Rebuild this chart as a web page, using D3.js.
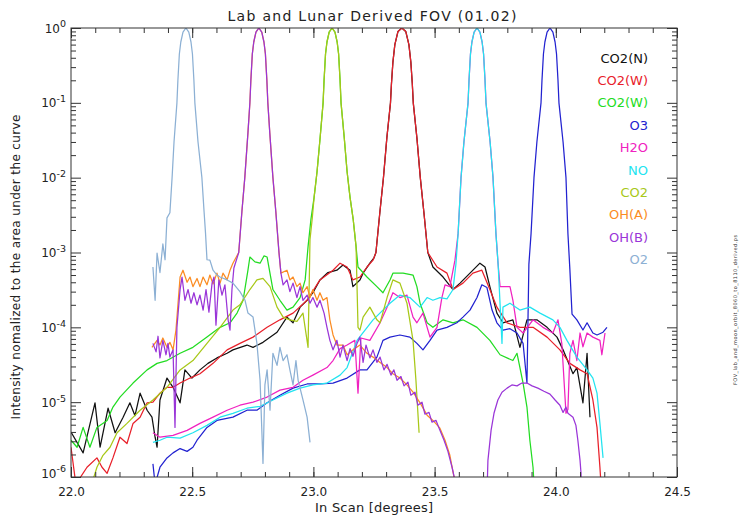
<!DOCTYPE html>
<html>
<head>
<meta charset="utf-8">
<script src="https://cdn.jsdelivr.net/npm/d3@7"></script>
<style>
body { margin: 0; background: #fff; }
text { font-family: "DejaVu Sans", sans-serif; }
.axis line { stroke: #333; stroke-width: 1; }
.axis path { display: none; }
</style>
</head>
<body>
<div id="chart"></div>
<script>
var names = ["CO2(N)", "CO2(W)", "CO2(W)", "O3", "H2O", "NO", "CO2", "OH(A)", "OH(B)", "O2"];
var colors = ["#111111", "#e8202a", "#22dc22", "#2222d0", "#f022c0", "#22e4f0", "#a8c818", "#fb8c23", "#9a35d8", "#8cb0d4"];

var xTicks = [22.0, 22.5, 23.0, 23.5, 24.0, 24.5];
var yTicks = [1e-6, 1e-5, 1e-4, 1e-3, 1e-2, 1e-1, 1];
var yExp = ["-6", "-5", "-4", "-3", "-2", "-1", "0"];

// [in-scan degrees, normalized intensity]
var co2N = [[22.000,4e-6],[22.050,2.1e-6],[22.099,9.8e-6],[22.120,2.5e-6],[22.153,8.3e-6],[22.182,3.9e-6],[22.215,6.3e-6],[22.243,9.8e-6],[22.264,6.6e-6],[22.285,1.32e-5],[22.314,7.8e-6],[22.334,6.3e-6],[22.347,3.4e-6],[22.355,2.5e-6],[22.367,1.07e-5],[22.396,2.1e-5],[22.421,1.58e-5],[22.450,9.8e-6],[22.470,2.7e-5],[22.499,2.1e-5],[22.532,2.7e-5],[22.565,3.3e-5],[22.602,3.9e-5],[22.644,4.5e-5],[22.668,5.0e-5],[22.726,5.8e-5],[22.751,5.4e-5],[22.792,6.3e-5],[22.850,8.6e-5],[22.891,1.37e-4],[22.916,1.15e-4],[22.945,1.86e-4],[22.974,2.3e-4],[22.998,2.9e-4],[23.027,4.3e-4],[23.060,5.4e-4],[23.097,5.8e-4],[23.122,6.8e-4],[23.151,5.8e-4],[23.163,3.5e-4],[23.192,4.3e-4],[23.205,5.3e-4],[23.233,7.2e-4],[23.250,8.5e-4],
  [23.258,1.0e-3],[23.274,3.4e-3],[23.289,0.01],[23.303,0.034],[23.318,0.1],[23.322,0.18],[23.328,0.35],[23.336,0.6],[23.349,0.9],[23.365,1.0],[23.381,0.9],[23.394,0.6],[23.402,0.35],[23.408,0.18],[23.412,0.1],[23.427,0.034],[23.441,0.01],[23.456,3.4e-3],[23.472,1.0e-3],
  [23.493,6.4e-4],[23.535,4.7e-4],[23.576,3.2e-4],[23.605,3.9e-4],[23.646,5.3e-4],[23.687,7.2e-4],[23.708,6.4e-4],[23.728,3.5e-4],[23.757,1.55e-4],[23.782,1.15e-4],[23.823,1.26e-4],[23.852,5.4e-5],[23.881,1.26e-4],[23.922,1.26e-4],[23.964,1.0e-4],[24.005,7.4e-5],[24.030,5.0e-5],[24.071,2.4e-5],[24.087,2.9e-5],[24.112,9.8e-6],[24.129,4.5e-5],[24.141,6.3e-6]];

var co2W = [[22.000,2.5e-6],[22.020,8e-7],[22.066,1.35e-6],[22.107,1.8e-6],[22.128,1.35e-6],[22.149,1.12e-6],[22.173,1.8e-6],[22.202,3.4e-6],[22.231,2.8e-6],[22.256,5.2e-6],[22.285,6.3e-6],[22.314,9.8e-6],[22.338,1.0e-5],[22.367,1.32e-5],[22.396,1.58e-5],[22.421,1.58e-5],[22.450,1.8e-5],[22.491,2.1e-5],[22.532,2.4e-5],[22.586,3.3e-5],[22.644,5.0e-5],[22.697,6.1e-5],[22.751,7.4e-5],[22.809,1.0e-4],[22.862,1.26e-4],[22.916,1.55e-4],[22.974,2.3e-4],[23.027,4.3e-4],[23.081,5.8e-4],[23.110,7.2e-4],[23.139,6.4e-4],[23.163,4.3e-4],[23.192,4.7e-4],[23.221,6.4e-4],[23.246,7.9e-4],
  [23.258,1.0e-3],[23.274,3.4e-3],[23.289,0.01],[23.303,0.034],[23.318,0.1],[23.322,0.18],[23.328,0.35],[23.336,0.6],[23.349,0.9],[23.365,1.0],[23.381,0.9],[23.394,0.6],[23.402,0.35],[23.408,0.18],[23.412,0.1],[23.427,0.034],[23.441,0.01],[23.456,3.4e-3],[23.472,1.0e-3],
  [23.510,6.4e-4],[23.551,5.3e-4],[23.576,3.2e-4],[23.617,3.9e-4],[23.658,5.3e-4],[23.695,5.8e-4],[23.728,3.2e-4],[23.757,1.86e-4],[23.799,1.15e-4],[23.852,1.0e-4],[23.906,1.0e-4],[23.964,7.4e-5],[24.017,5.0e-5],[24.058,3.3e-5],[24.100,2.7e-5],[24.129,2.4e-5],[24.153,1.07e-5],[24.170,4.6e-6],[24.182,1.35e-6],[24.195,3e-7]];

var co2Wg = [[22.000,3.1e-6],[22.025,2.5e-6],[22.050,4.6e-6],[22.078,2.5e-6],[22.107,4.6e-6],[22.149,5.7e-6],[22.173,8.6e-6],[22.202,1.17e-5],[22.256,1.8e-5],[22.314,2.7e-5],[22.355,3.3e-5],[22.396,3.6e-5],[22.450,4.5e-5],[22.503,5.4e-5],[22.561,7.4e-5],[22.615,1.0e-4],[22.656,1.15e-4],[22.685,1.55e-4],[22.710,2.3e-4],[22.730,5.8e-4],[22.738,8.7e-4],[22.759,7.5e-4],[22.780,7.2e-4],[22.796,9.0e-4],[22.809,8.7e-4],[22.833,3.2e-4],[22.862,2.3e-4],[22.891,1.7e-4],[22.916,1.86e-4],[22.945,2.5e-4],[22.966,4.3e-4],
  [22.978,1.2e-3],[22.990,2.8e-3],[23.003,5.5e-3],[23.015,0.012],[23.028,0.035],[23.040,0.1],[23.044,0.2],[23.050,0.45],[23.056,0.65],[23.065,0.88],[23.077,1.0],[23.089,0.88],[23.098,0.65],[23.104,0.45],[23.110,0.2],[23.114,0.1],[23.127,0.035],[23.139,0.012],[23.151,5.5e-3],[23.164,2.8e-3],[23.176,1.2e-3],
  [23.184,6.4e-4],[23.221,4.7e-4],[23.262,3.5e-4],[23.287,2.9e-4],[23.316,4.3e-4],[23.328,5.3e-4],[23.370,5.3e-4],[23.411,5.0e-4],[23.427,3.5e-4],[23.440,2.1e-4],[23.469,1.15e-4],[23.493,1.0e-4],[23.535,1.26e-4],[23.576,1.15e-4],[23.617,1.26e-4],[23.675,1.0e-4],[23.728,6.7e-5],[23.770,4.3e-5],[23.823,3.6e-5],[23.840,4.5e-5],[23.852,2.9e-5],[23.865,1.8e-5],[23.881,8.6e-6],[23.893,3.1e-6],[23.906,1.35e-6],[23.918,3e-7]];

var o3 = [[22.338,1.5e-6],[22.347,8e-7],[22.367,1.35e-6],[22.396,1.8e-6],[22.421,2.1e-6],[22.450,2.4e-6],[22.479,2.2e-6],[22.503,2.5e-6],[22.520,3.1e-6],[22.561,4.6e-6],[22.602,5.7e-6],[22.668,6.3e-6],[22.726,7.8e-6],[22.767,7.8e-6],[22.809,9.8e-6],[22.862,1.24e-5],[22.916,1.54e-5],[22.974,1.75e-5],[23.027,1.75e-5],[23.081,1.8e-5],[23.139,2.1e-5],[23.192,2.7e-5],[23.221,2.7e-5],[23.262,4.0e-5],[23.287,6.7e-5],[23.316,7.4e-5],[23.357,7.9e-5],[23.398,7.4e-5],[23.427,6.1e-5],[23.452,5.0e-5],[23.481,6.7e-5],[23.510,9.2e-5],[23.551,1.0e-4],[23.592,1.15e-4],[23.617,1.37e-4],[23.646,1.7e-4],[23.675,2.5e-4],[23.695,3.7e-4],[23.716,3.4e-4],[23.737,1.7e-4],[23.757,1.15e-4],[23.782,9.2e-5],[23.811,9.6e-5],[23.840,8.4e-5],[23.865,6.1e-5],[23.881,1.8e-5],
  [23.889,7e-4],[23.898,1.8e-3],[23.910,0.01],[23.922,0.03],[23.939,0.1],[23.943,0.2],[23.949,0.45],[23.955,0.65],[23.964,0.88],[23.976,1.0],[23.988,0.88],[23.997,0.65],[24.003,0.45],[24.009,0.2],[24.013,0.1],[24.030,0.03],[24.042,0.01],[24.050,1.8e-3],[24.058,6e-4],[24.067,1.5e-4],
  [24.087,1.26e-4],[24.112,9.2e-5],[24.129,1.15e-4],[24.153,8.4e-5],[24.170,7.9e-5],[24.195,8.6e-5],[24.211,1.0e-4]];

var h2o = [[22.338,3.9e-6],[22.367,3.4e-6],[22.421,3.6e-6],[22.479,4.2e-6],[22.532,5.2e-6],[22.586,6.3e-6],[22.644,7.8e-6],[22.697,9.1e-6],[22.751,1.0e-5],[22.809,1.17e-5],[22.862,1.45e-5],[22.916,1.58e-5],[22.957,1.96e-5],[22.998,2.3e-5],[23.056,2.9e-5],[23.081,3.6e-5],[23.110,5.2e-5],[23.139,5.8e-5],[23.171,6.7e-5],[23.184,1.32e-5],[23.196,7.2e-5],[23.233,6.7e-5],[23.275,1.15e-4],[23.304,1.86e-4],[23.328,2.9e-4],[23.357,2.5e-4],[23.386,2.7e-4],[23.411,1.37e-4],[23.427,1.15e-4],[23.452,1.55e-4],[23.481,7.4e-5],[23.510,1.0e-4],[23.530,2.5e-4],[23.543,3.7e-4],[23.563,3.5e-4],[23.584,7.9e-4],
  [23.597,1.8e-3],[23.609,0.01],[23.621,0.03],[23.638,0.1],[23.642,0.2],[23.648,0.45],[23.654,0.65],[23.663,0.88],[23.675,1.0],[23.687,0.88],[23.696,0.65],[23.702,0.45],[23.708,0.2],[23.712,0.1],[23.729,0.03],[23.741,0.01],[23.753,1.8e-3],[23.762,7e-4],
  [23.770,3.5e-4],[23.790,3.5e-4],[23.811,3.5e-4],[23.823,2.3e-4],[23.840,1.0e-4],[23.865,8.4e-5],[23.906,1.26e-4],[23.947,1.0e-4],[23.988,8.4e-5],[24.009,1.26e-4],[24.025,6.0e-5],[24.042,7.1e-6],[24.050,8.0e-6],[24.058,4.5e-5],[24.071,6.7e-5],[24.087,3.6e-5],[24.100,8.4e-5],[24.112,5.5e-5],[24.129,8.4e-5],[24.153,7.4e-5],[24.182,6.7e-5],[24.190,4.3e-5],[24.203,8.4e-5]];

var no = [[22.338,2.9e-6],[22.367,3.1e-6],[22.396,3.4e-6],[22.450,3.3e-6],[22.503,3.9e-6],[22.561,4.9e-6],[22.615,6.3e-6],[22.668,7.1e-6],[22.726,8.3e-6],[22.780,8.8e-6],[22.833,1.07e-5],[22.891,1.32e-5],[22.945,1.54e-5],[22.998,1.7e-5],[23.056,1.8e-5],[23.110,2.3e-5],[23.139,2.9e-5],[23.180,6.7e-5],[23.246,1.26e-4],[23.316,2.1e-4],[23.357,2.7e-4],[23.398,2.5e-4],[23.440,1.86e-4],[23.469,2.5e-4],[23.493,2.3e-4],[23.522,2.5e-4],[23.551,2.4e-4],[23.576,3.2e-4],
  [23.588,7e-4],[23.597,1.8e-3],[23.609,0.01],[23.621,0.03],[23.638,0.1],[23.642,0.2],[23.648,0.45],[23.654,0.65],[23.663,0.88],[23.675,1.0],[23.687,0.88],[23.696,0.65],[23.702,0.45],[23.708,0.2],[23.712,0.1],[23.729,0.03],[23.741,0.01],[23.753,1.8e-3],[23.762,7e-4],
  [23.778,6.1e-5],[23.782,1.86e-4],[23.811,2.1e-4],[23.852,1.7e-4],[23.893,1.86e-4],[23.935,1.55e-4],[23.988,1.26e-4],[24.017,1.0e-4],[24.046,6.7e-5],[24.087,4.0e-5],[24.129,2.7e-5],[24.153,2.1e-5],[24.170,1.32e-5],[24.182,5.2e-6],[24.195,1.8e-6]];

var co2 = [[22.085,8e-7],[22.107,1.35e-6],[22.132,1.95e-6],[22.161,2.5e-6],[22.190,3.9e-6],[22.231,5.2e-6],[22.285,7.8e-6],[22.338,1.07e-5],[22.396,1.58e-5],[22.450,2.7e-5],[22.503,3.6e-5],[22.561,6.1e-5],[22.615,1.0e-4],[22.668,1.7e-4],[22.697,2.0e-4],[22.738,3.2e-4],[22.767,4.3e-4],[22.792,4.5e-4],[22.821,3.5e-4],[22.850,1.86e-4],[22.875,1.37e-4],[22.903,1.26e-4],[22.932,1.2e-4],[22.957,1.55e-4],[22.978,5.4e-5],
  [22.986,1.5e-3],[22.995,2.8e-3],[23.003,5.5e-3],[23.015,0.012],[23.028,0.035],[23.040,0.1],[23.044,0.2],[23.050,0.45],[23.056,0.65],[23.065,0.88],[23.077,1.0],[23.089,0.88],[23.098,0.65],[23.104,0.45],[23.110,0.2],[23.114,0.1],[23.127,0.035],[23.139,0.012],[23.151,5.5e-3],[23.164,2.8e-3],[23.176,1.2e-3],
  [23.180,3.5e-4],[23.184,1.0e-4],[23.192,9.2e-5],[23.205,1.37e-4],[23.233,1.86e-4],[23.262,1.26e-4],[23.275,1.15e-4],[23.304,2.5e-4],[23.328,4.3e-4],[23.357,3.9e-4],[23.386,2.1e-4],[23.411,6.7e-5],[23.423,1.96e-5],[23.436,3.9e-6]];

var ohA = [[22.334,5.4e-5],[22.355,6.7e-5],[22.367,5.8e-5],[22.379,7.2e-5],[22.396,5.4e-5],[22.408,6.3e-5],[22.421,5.0e-5],[22.433,9.2e-5],[22.450,4.7e-4],[22.462,5.8e-4],[22.479,4.0e-4],[22.491,4.7e-4],[22.503,3.5e-4],[22.520,4.5e-4],[22.532,3.5e-4],[22.545,4.7e-4],[22.561,3.7e-4],[22.573,5.0e-4],[22.586,3.8e-4],[22.602,5.3e-4],[22.615,3.9e-4],[22.627,5.3e-4],[22.644,4.3e-4],[22.656,5.8e-4],[22.668,7.2e-4],
  [22.692,1e-3],[22.705,3.5e-3],[22.717,0.01],[22.730,0.04],[22.738,0.1],[22.742,0.2],[22.748,0.45],[22.754,0.65],[22.763,0.88],[22.775,1.0],[22.787,0.88],[22.796,0.65],[22.802,0.45],[22.808,0.2],[22.812,0.1],[22.820,0.04],[22.833,0.01],[22.845,3.5e-3],[22.858,1e-3],
  [22.866,5.3e-4],[22.891,5.8e-4],[22.903,4.3e-4],[22.916,4.7e-4],[22.932,3.5e-4],[22.945,3.9e-4],[22.957,2.9e-4],[22.974,3.5e-4],[22.986,2.5e-4],[22.998,3.2e-4],[23.015,2.3e-4],[23.027,2.9e-4],[23.040,2.3e-4],[23.056,2.5e-4],[23.068,1.26e-4],[23.081,7.9e-5],[23.097,5.8e-5],[23.122,5.8e-5],[23.139,4.3e-5],[23.163,5.0e-5],[23.192,5.8e-5],[23.221,4.5e-5],[23.246,4.0e-5],[23.275,3.4e-5],[23.304,2.9e-5],[23.328,2.4e-5],[23.357,2.1e-5],[23.386,1.7e-5],[23.411,1.36e-5],[23.440,9.8e-6],[23.469,6.7e-6],[23.493,5.7e-6],[23.522,4.5e-6],[23.543,3.1e-6],[23.563,1.95e-6],[23.580,1e-6],[23.588,3e-7]];

var ohB = [[22.338,6.1e-5],[22.351,4.7e-5],[22.359,7.6e-5],[22.367,3.9e-5],[22.379,6.7e-5],[22.392,4.3e-5],[22.400,6.1e-5],[22.408,4.0e-5],[22.421,5.0e-5],[22.429,4.6e-6],[22.437,1.0e-4],[22.450,3.2e-4],[22.458,4.7e-4],[22.470,2.3e-4],[22.483,3.2e-4],[22.495,2.1e-4],[22.507,2.9e-4],[22.520,2.0e-4],[22.532,2.7e-4],[22.545,1.7e-4],[22.557,3.2e-4],[22.569,1.6e-4],[22.582,3.9e-4],[22.590,4.7e-4],[22.598,1.07e-4],[22.610,4.3e-4],[22.623,2.7e-4],[22.635,3.7e-4],[22.648,1.26e-4],[22.656,9.2e-5],[22.664,3.2e-4],[22.672,6.2e-4],
  [22.692,1e-3],[22.705,3.5e-3],[22.717,0.01],[22.730,0.04],[22.738,0.1],[22.742,0.2],[22.748,0.45],[22.754,0.65],[22.763,0.88],[22.775,1.0],[22.787,0.88],[22.796,0.65],[22.802,0.45],[22.808,0.2],[22.812,0.1],[22.820,0.04],[22.833,0.01],[22.845,3.5e-3],[22.858,1e-3],
  [22.866,5.3e-4],[22.875,3.7e-4],[22.891,4.3e-4],[22.903,3.0e-4],[22.916,3.9e-4],[22.932,2.5e-4],[22.945,3.5e-4],[22.957,2.3e-4],[22.974,2.7e-4],[22.986,2.1e-4],[22.998,2.5e-4],[23.015,1.86e-4],[23.027,2.3e-4],[23.044,1.55e-4],[23.056,1.0e-4],[23.068,6.7e-5],[23.081,5.0e-5],[23.097,6.7e-5],[23.110,4.0e-5],[23.122,5.8e-5],[23.139,3.6e-5],[23.151,5.2e-5],[23.163,4.1e-5],[23.180,6.1e-5],[23.192,7.4e-5],[23.205,3.4e-5],[23.217,5.8e-5],[23.233,3.9e-5],[23.246,5.0e-5],[23.262,3.4e-5],[23.275,4.0e-5],[23.291,2.7e-5],[23.304,3.2e-5],[23.320,2.3e-5],[23.332,2.7e-5],[23.345,1.96e-5],[23.361,2.2e-5],[23.374,1.65e-5],[23.390,1.85e-5],[23.402,1.24e-5],[23.419,1.36e-5],[23.431,9.1e-6],[23.448,1.0e-5],[23.460,6.9e-6],[23.477,7.3e-6],[23.489,5.4e-6],[23.506,5.7e-6],[23.522,4.2e-6],[23.539,3.1e-6],[23.555,2.2e-6],[23.572,1.35e-6],[23.584,9e-7],[23.596,2e-7],
  [23.712,2e-7],[23.720,1.67e-6],[23.733,4.2e-6],[23.745,7.1e-6],[23.761,1.07e-5],[23.778,1.36e-5],[23.799,1.54e-5],[23.819,1.7e-5],[23.840,1.65e-5],[23.860,1.8e-5],[23.881,1.8e-5],[23.902,1.65e-5],[23.926,1.54e-5],[23.951,1.4e-5],[23.976,1.28e-5],[23.997,1.07e-5],[24.017,9.1e-6],[24.030,7.3e-6],[24.042,8.6e-6],[24.050,7.1e-6],[24.071,6.3e-6],[24.083,4.9e-6],[24.091,3.1e-6],[24.100,1.67e-6],[24.104,1.12e-6],[24.108,2e-7]];

var o2 = [[22.338,6.4e-4],[22.347,2.3e-4],[22.355,9.8e-4],[22.367,5.4e-4],[22.379,1.3e-3],[22.388,8e-4],[22.396,2.9e-3],[22.408,3.4e-3],[22.417,1.0e-2],[22.425,0.03],[22.437,0.1],[22.441,0.2],[22.447,0.45],[22.453,0.65],[22.462,0.88],[22.474,1.0],[22.486,0.88],[22.495,0.65],[22.501,0.45],[22.507,0.2],[22.511,0.1],[22.524,0.03],[22.540,0.01],[22.549,3.5e-3],[22.555,1.8e-3],[22.561,8e-4],[22.573,7.9e-4],[22.586,5.8e-4],[22.602,5.0e-4],[22.615,4.7e-4],[22.644,4.3e-4],[22.668,3.9e-4],[22.697,3.0e-4],[22.718,2.3e-4],[22.730,1.55e-4],[22.751,1.37e-4],[22.767,6.1e-5],[22.780,1.96e-5],[22.792,1.52e-6],[22.800,1.7e-5],[22.809,2.7e-5],[22.821,7.8e-6],[22.833,4.5e-5],[22.850,3.1e-5],[22.862,5.4e-5],[22.875,3.6e-5],[22.891,4.3e-5],[22.903,2.7e-5],[22.916,1.7e-5],[22.928,3.6e-5],[22.937,1.96e-5],[22.957,1.07e-5],[22.974,6.3e-6],[22.986,2.9e-6]];

var series = [co2N, co2W, co2Wg, o3, h2o, no, co2, ohA, ohB, o2];

function main() {
    var w = 742;
    var h = 521;

    var svg = d3.select("#chart")
                .append("svg")
                .attr("width", w)
                .attr("height", h);

    var x = d3.scaleLinear().domain([22, 24.5]).range([71, 677]);
    var y = d3.scaleLog().domain([1e-6, 1]).range([477, 28]);

    svg.append("defs").append("clipPath")
      .attr("id", "plotClip")
      .append("rect")
      .attr("x", x(22)).attr("y", y(1))
      .attr("width", x(24.5) - x(22))
      .attr("height", y(1e-6) - y(1));

    // curves
    var line = d3.line()
      .x(function(d){ return x(d[0]); })
      .y(function(d){ return y(d[1]); });

    svg.append("g")
      .attr("clip-path", "url(#plotClip)")
      .selectAll("path")
      .data(series)
      .enter()
      .append("path")
      .attr("d", line)
      .style("fill", "none")
      .style("stroke", function(d, i){ return colors[i]; })
      .style("stroke-width", 1.25)
      .style("stroke-linejoin", "round");

    // box axes, ticks pointing inwards
    var xMinor = d3.range(22, 24.55, 0.1);
    var yMinor = [];
    yTicks.slice(0, -1).forEach(function(t) {
        d3.range(2, 10).forEach(function(m){ yMinor.push(t * m); });
    });

    function addAxis(axis, tx, ty) {
        svg.append("g")
          .attr("class", "axis")
          .attr("transform", "translate(" + tx + "," + ty + ")")
          .call(axis);
    }

    addAxis(d3.axisBottom(x).tickValues(xMinor).tickSize(-5).tickFormat(""), 0, y(1e-6));
    addAxis(d3.axisTop(x).tickValues(xMinor).tickSize(-5).tickFormat(""), 0, y(1));
    addAxis(d3.axisTop(x).tickValues(xTicks).tickSize(-10).tickFormat(""), 0, y(1));
    addAxis(d3.axisLeft(y).tickValues(yMinor).tickSize(-5).tickFormat(""), x(22), 0);
    addAxis(d3.axisLeft(y).tickValues(yTicks).tickSize(-10).tickFormat(""), x(22), 0);
    addAxis(d3.axisRight(y).tickValues(yMinor).tickSize(-5).tickFormat(""), x(24.5), 0);
    addAxis(d3.axisRight(y).tickValues(yTicks).tickSize(-10).tickFormat(""), x(24.5), 0);

    var bottom = svg.append("g")
      .attr("class", "axis")
      .attr("transform", "translate(0," + y(1e-6) + ")")
      .call(d3.axisBottom(x).tickValues(xTicks).tickSize(-10).tickPadding(10).tickFormat(d3.format(".1f")));
    bottom.selectAll("text")
      .style("font-size", "12px")
      .style("font-family", "DejaVu Sans, sans-serif")
      .style("fill", "#222");

    svg.append("rect")
      .attr("x", x(22)).attr("y", y(1))
      .attr("width", x(24.5) - x(22))
      .attr("height", y(1e-6) - y(1))
      .style("fill", "none")
      .style("stroke", "#333")
      .style("stroke-width", 1);

    // log labels 10^n
    var ylab = svg.append("g")
      .selectAll("text")
      .data(yTicks)
      .enter()
      .append("text")
      .attr("x", x(22) - 5)
      .attr("y", function(d){ return Math.max(24, Math.min(473, y(d))); })
      .attr("text-anchor", "end")
      .style("fill", "#222");
    ylab.append("tspan")
      .attr("dy", "0.38em")
      .style("font-size", "12px")
      .text("10");
    ylab.append("tspan")
      .attr("dy", "-0.55em")
      .style("font-size", "9.5px")
      .text(function(d, i){ return yExp[i]; });

    // titles
    svg.append("text")
      .attr("x", 372).attr("y", 21)
      .attr("text-anchor", "middle")
      .attr("textLength", 289)
      .style("font-size", "14px")
      .style("fill", "#222")
      .text("Lab and Lunar Derived FOV (01.02)");

    svg.append("text")
      .attr("x", 374).attr("y", 512)
      .attr("text-anchor", "middle")
      .attr("textLength", 118)
      .style("font-size", "13px")
      .style("fill", "#222")
      .text("In Scan [degrees]");

    svg.append("text")
      .attr("transform", "translate(20,267) rotate(-90)")
      .attr("text-anchor", "middle")
      .attr("textLength", 305)
      .style("font-size", "12px")
      .style("fill", "#222")
      .text("Intensity nomalized to the area under the curve");

    // legend
    svg.append("g")
      .selectAll("text")
      .data(names)
      .enter()
      .append("text")
      .attr("x", 648)
      .attr("y", function(d, i){ return 58 + i * 22.4; })
      .attr("dy", "0.36em")
      .attr("text-anchor", "end")
      .style("font-size", "13px")
      .style("fill", function(d, i){ return colors[i]; })
      .text(function(d){ return d; });

    // file tag on the right
    svg.append("text")
      .attr("transform", "translate(737,310) rotate(-90)")
      .attr("text-anchor", "middle")
      .attr("textLength", 150)
      .style("font-size", "5px")
      .style("fill", "#333")
      .text("FOV_lab_and_moon_orbit_8060_to_8110_derived.ps");
}

main();
</script>
</body>
</html>
